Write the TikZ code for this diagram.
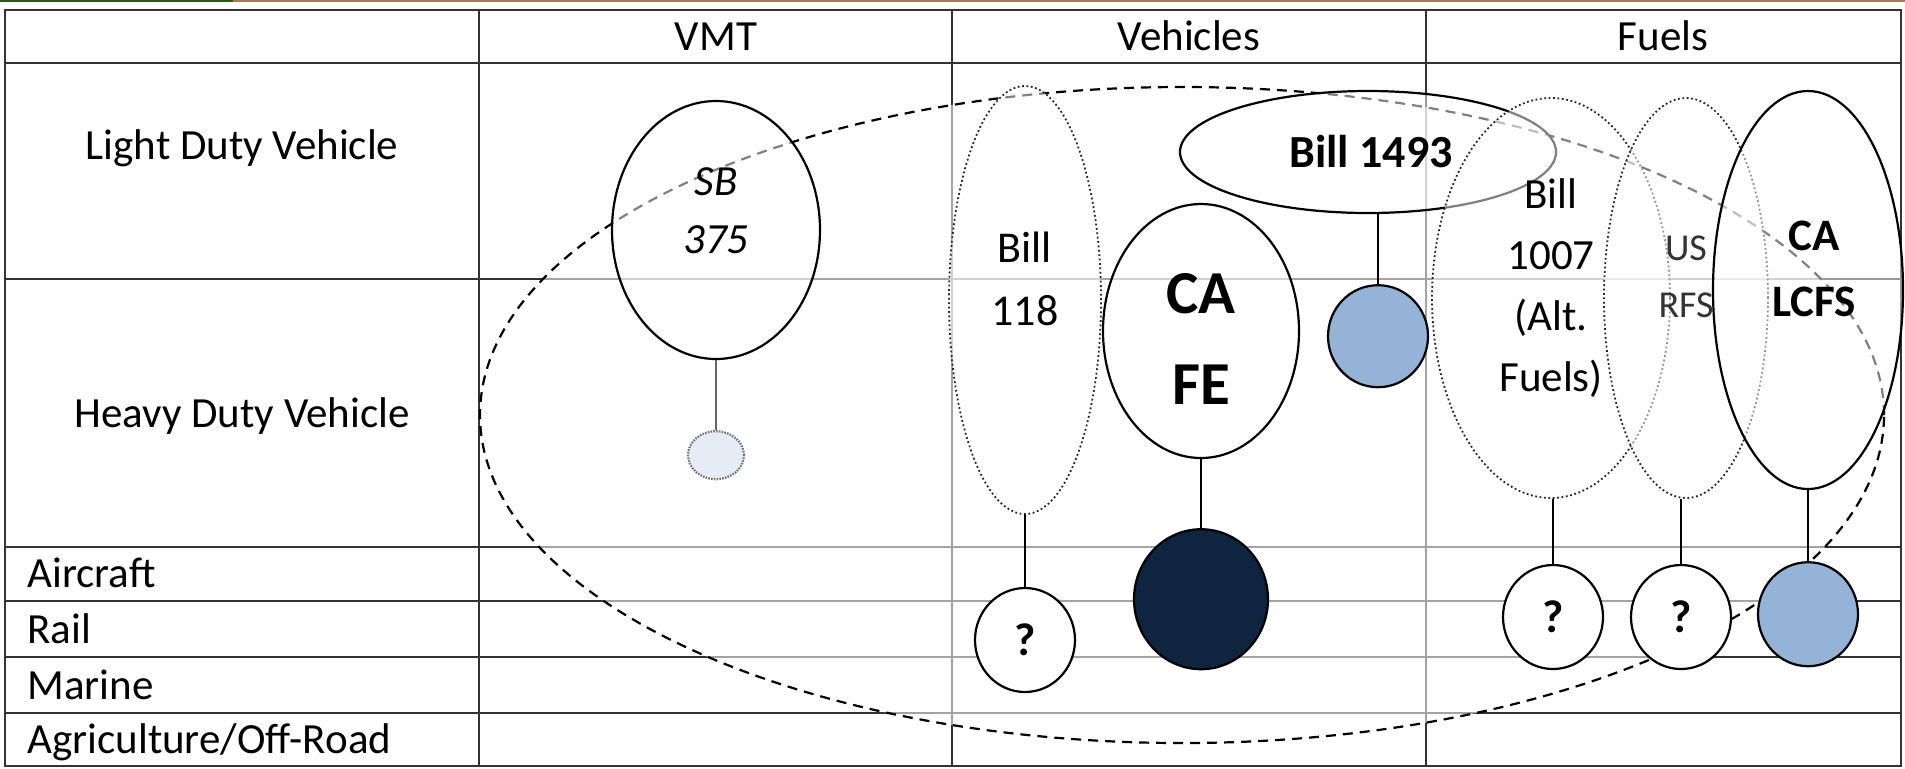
\documentclass[tikz,border=0pt]{standalone}
\usepackage{fontspec}
\setmainfont{Carlito}
\usetikzlibrary{positioning,
                shapes.geometric}

\definecolor{policyblue}{HTML}{95B3D7}
\definecolor{policynavy}{HTML}{0F243E}
\definecolor{policypale}{HTML}{E6ECF5}
\definecolor{bannerbrown}{HTML}{A3814F}
\definecolor{bannergreen}{HTML}{2F5A1E}

\newcommand{\cellfont}{\fontsize{21.5}{26}\selectfont}

\begin{document}
\begin{tikzpicture}[x=0.5pt, y=-0.5pt,
    frame/.style={draw=black!80, line width=1.4pt},
    grid/.style={draw=black!80, line width=1pt},
    head/.style={anchor=base, font=\cellfont},
    rowlabel/.style={anchor=base west, inner sep=0pt, font=\cellfont},
    oval/.style 2 args={ellipse, draw, line width=1.1pt, fill=white, fill opacity=0.5,
                        minimum width=#1pt, minimum height=#2pt, inner sep=0pt},
    dotoval/.style 2 args={oval={#1}{#2}, draw=black!85, line width=0.9pt,
                           dash pattern=on 0.9pt off 1.3pt},
    blob/.style 2 args={ellipse, draw, line width=1.1pt,
                        minimum width=#1pt, minimum height=#2pt, inner sep=0pt},
    qmark/.style={font=\fontsize{23}{26}\selectfont\bfseries},
    txt/.style={align=center, inner sep=0pt}]
    \useasboundingbox (0,0) rectangle (1905,768);

    % banner
    \fill[bannergreen] (0,0) rectangle (233,2);
    \fill[bannerbrown] (233,0) rectangle (1905,2);

    % table
    \draw[frame] (5,10) rectangle (1901,766);
    \draw[frame] (5,63) -- (1901,63);
    \foreach \y in {279,547,601,657,713}
        \draw[grid] (5,\y) -- (1901,\y);
    \foreach \x in {479,952,1426}
        \draw[grid] (\x,10) -- (\x,766);

    \node[head] (vmt) at (716,50) {VMT};
    \node[head] (vehicles) at (1189,50) {Vehicles};
    \node[head] (fuels) at (1663,50) {Fuels};

    \node[head] (ldv) at (242,159) {Light Duty Vehicle};
    \node[head] (hdv) at (242,427) {Heavy Duty Vehicle};
    \node[rowlabel] (aircraft) at (27,587) {Aircraft};
    \node[rowlabel] (rail) at (27,643) {Rail};
    \node[rowlabel] (marine) at (27,699) {Marine};
    \node[rowlabel] (agri) at (27,753) {Agriculture/Off-Road};

    % scope
    \node[ellipse, draw, line width=1.1pt, dash pattern=on 5pt off 3.5pt,
          fill=white, fill opacity=0.55,
          minimum width=702pt, minimum height=328pt] (coverage) at (1182,415) {};

    % VMT
    \node[oval={104}{129}] (sb) at (716,230) {};
    \node[txt, font={\fontsize{21.5}{29}\selectfont\itshape}]
        (sbtext) at ([yshift=9.5pt]sb.center) {SB\\375};
    \node[blob={28}{24}, fill=policypale, draw=black!55,
          dash pattern=on 0.8pt off 0.6pt, below=35pt of sb] (sbsmall) {};
    \draw[black!60, line width=0.8pt] (sb) -- (sbsmall);

    % vehicles
    \node[dotoval={76}{214}] (bill118) at (1025,300) {};
    \node[txt, font={\fontsize{22}{31.5}\selectfont}]
        (bill118text) at ([yshift=10.75pt]bill118.center) {Bill\\118};
    \node[blob={50}{52}, fill=white, below=36pt of bill118] (q118) {};
    \node[qmark] at (q118) {?};
    \draw[line width=0.8pt] (bill118) -- (q118);

    \node[oval={98}{127}] (cafe) at (1201,331) {};
    \node[txt, font={\fontsize{30.5}{45.5}\selectfont\bfseries}]
        (cafetext) at ([yshift=-3.75pt]cafe.center) {CA\\FE};
    \node[blob={67}{70}, fill=policynavy, below=34.5pt of cafe] (cafedark) {};
    \draw[line width=0.8pt] (cafe) -- (cafedark);

    \node[oval={188}{61}] (bill1493) at (1368,152) {};
    \node[txt, font={\fontsize{23}{27}\selectfont\bfseries}]
        (bill1493text) at ([xshift=1.5pt]bill1493.center) {Bill 1493};
    \node[blob={50}{51}, fill=policyblue, below=35pt of bill1493, xshift=5pt] (b1493blue) {};
    \draw[line width=0.8pt] (b1493blue) -- (b1493blue |- bill1493.south);

    % fuels
    \node[dotoval={119}{200}] (bill1007) at (1551,298) {};
    \node[txt, font={\fontsize{21.5}{30.5}\selectfont}]
        (bill1007text) at ([yshift=5pt]bill1007.center) {Bill\\1007\\(Alt.\\Fuels)};
    \node[blob={50}{52}, fill=white, below=32.5pt of bill1007, xshift=1pt] (q1007) {};
    \node[qmark] at (q1007) {?};
    \draw[line width=0.8pt] (q1007) -- (q1007 |- bill1007.south);

    \node[dotoval={82}{200}] (usrfs) at (1686,298) {};
    \node[txt, text=black!80, font={\fontsize{19}{28.5}\selectfont}]
        (usrfstext) at ([yshift=10.75pt]usrfs.center) {US\\RFS};
    \node[blob={50}{52}, fill=white, below=32.5pt of usrfs, xshift=-2.5pt] (qrfs) {};
    \node[qmark] at (qrfs) {?};
    \draw[line width=0.8pt] (qrfs) -- (qrfs |- usrfs.south);

    \node[oval={95}{199}] (calcfs) at (1808,290) {};
    \node[txt, font={\fontsize{22.5}{33}\selectfont\bfseries}]
        (calcfstext) at ([xshift=3pt, yshift=10.5pt]calcfs.center) {CA\\LCFS};
    \node[blob={50}{52}, fill=policyblue, below=35.5pt of calcfs] (lcfsblue) {};
    \draw[line width=0.8pt] (calcfs) -- (lcfsblue);

\end{tikzpicture}
\end{document}
